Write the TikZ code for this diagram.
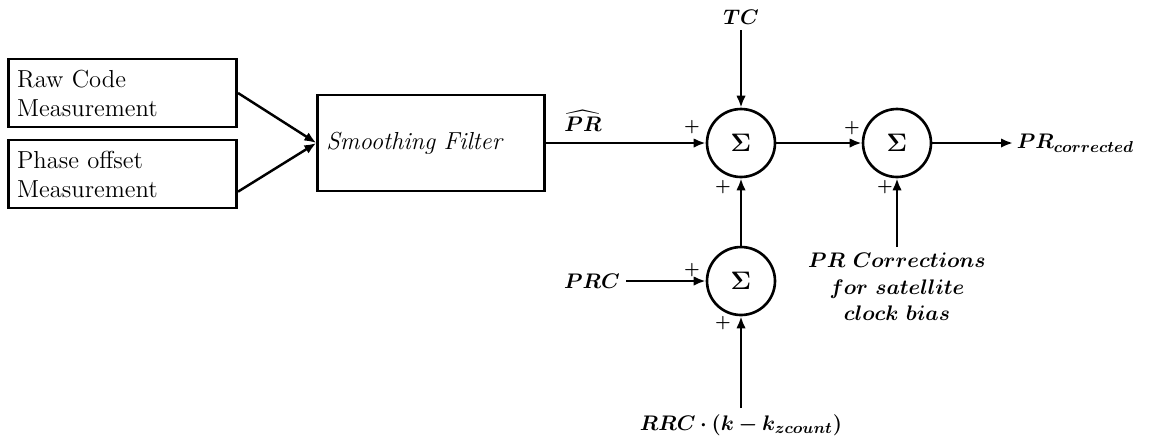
\documentclass[tikz,border=0pt]{standalone}
\usepackage{amsmath}
\usepackage{amssymb}
\usepackage{bm}
\usepackage{tikz}
\usetikzlibrary{arrows.meta,positioning,calc}

\begin{document}
\begin{tikzpicture}[x=0.02cm, y=-0.02cm,
  box/.style={draw, line width=1.5pt, align=left, inner xsep=5pt,
    font=\fontsize{14}{16.5}\selectfont},
  sumc/.style={circle, draw, line width=1.5pt, minimum size=1.36cm, inner sep=0pt,
    font=\Large},
  lbl/.style={font=\fontsize{13}{17}\selectfont},
  pl/.style={font=\bfseries\normalsize, inner sep=0pt},
  ar/.style={-{Latex[length=2.4mm,width=1.9mm]}, line width=1.4pt}]
\useasboundingbox (0,0) rectangle (1152,441);
% input blocks
\node[box, text width=120pt, minimum height=1.36cm] (raw) at (122.5,93) {Raw Code\\Measurement};
\node[box, text width=120pt, minimum height=1.36cm] (phs) at (122.5,174) {Phase offset\\Measurement};
\node[box, text width=119pt, minimum height=1.92cm, font=\fontsize{14}{16}\selectfont\itshape] (flt) at (431,143) {Smoothing Filter};
% summing junctions
\node[sumc] (s1) at (741,143) {$\bm{\Sigma}$};
\node[sumc] (s2) at (897,143) {$\bm{\Sigma}$};
\node[sumc] (s3) at (741,281) {$\bm{\Sigma}$};
% signal labels
\node[lbl] (tc) at (741,17) {$\bm{TC}$};
\node[lbl] (prc) at (592,281) {$\bm{PRC}$};
\node[lbl, anchor=north] (rrc) at (741,408) {$\bm{RRC\cdot(k-k_{zcount})}$};
\node[lbl, anchor=north, align=center, font=\fontsize{13}{15}\selectfont] (clk) at (897,247)
  {$\bm{PR\ Corrections}$\\$\bm{for\ satellite}$\\$\bm{clock\ bias}$};
\node[lbl, anchor=west, inner sep=2pt] (out) at (1013,143) {$\bm{PR_{corrected}}$};
\node[lbl, inner sep=1pt] (prh) at (583,121) {$\bm{\widehat{PR}}$};
% connectors
\draw[ar] (raw.east) -- (flt.west);
\draw[ar] ($(phs.east)!0.5!(phs.south east)$) -- (flt.west);
\draw[ar] (flt.east) -- (s1.west);
\draw[ar] (tc.south) -- (s1.north);
\draw[ar] (s3.north) -- (s1.south);
\draw[ar] (s1.east) -- (s2.west);
\draw[ar] (clk.north) -- (s2.south);
\draw[ar] (s2.east) -- (out.west);
\draw[ar] (prc.east) -- (s3.west);
\draw[ar] (rrc.north) -- (s3.south);
% signs
\foreach \x/\y in {692/127, 723/187, 852/128, 885/187, 692/270, 723/323}
  \node[pl] at (\x,\y) {+};
\end{tikzpicture}
\end{document}
